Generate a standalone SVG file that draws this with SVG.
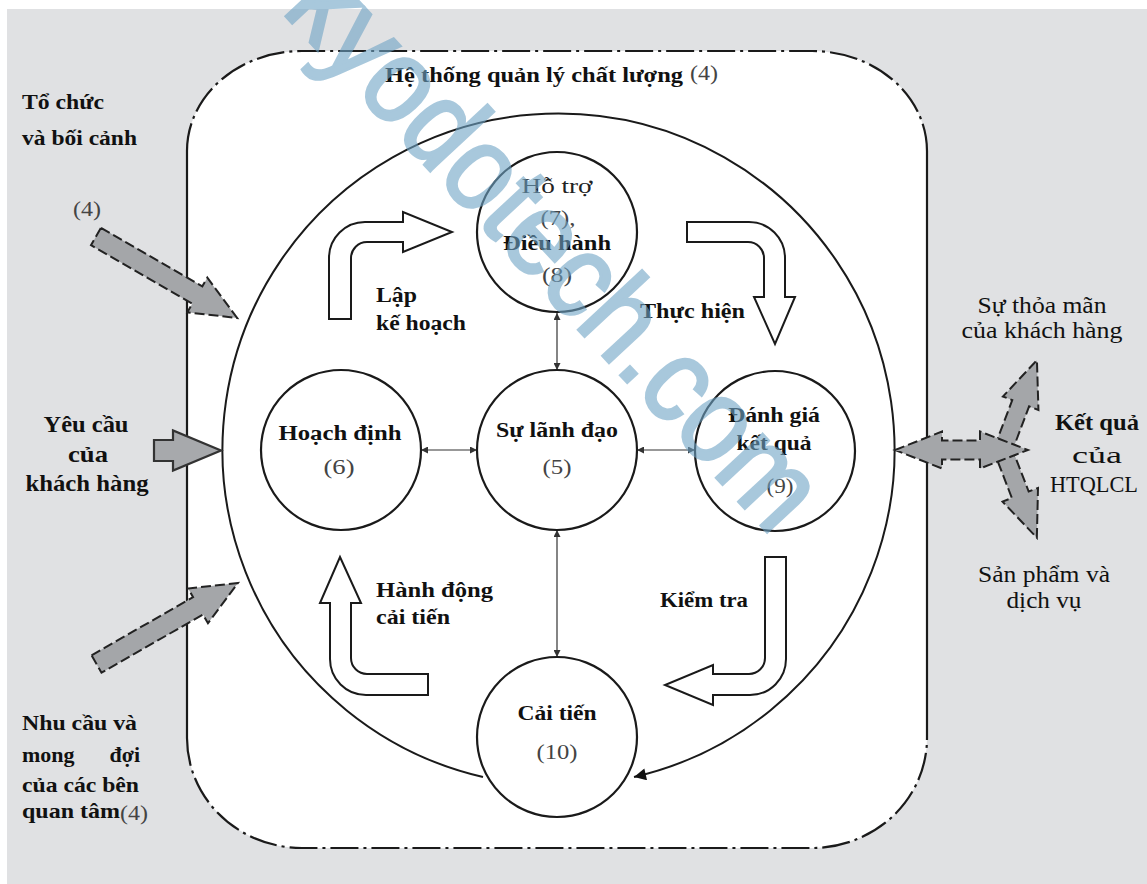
<svg xmlns="http://www.w3.org/2000/svg" width="1147" height="884" viewBox="0 0 1147 884">
<defs>
<style>
.b{font-family:"Liberation Serif","DejaVu Serif",serif;font-weight:bold;fill:#111;font-size:22px}
.r{font-family:"Liberation Serif","DejaVu Serif",serif;font-weight:normal;fill:#222;font-size:22px}
.n{font-family:"Liberation Serif","DejaVu Serif",serif;font-weight:normal;fill:#444;font-size:21px}
.node{fill:#fff;stroke:#1a1a1a;stroke-width:2.2}
.blk{fill:#fff;stroke:#1a1a1a;stroke-width:2;stroke-linejoin:miter}
.dash{fill:#a4a6a9;stroke:#222;stroke-width:2;stroke-dasharray:10 4}
.solidarr{fill:#a7a9ac;stroke:#333;stroke-width:2.2}
.thin{fill:none;stroke:#333;stroke-width:1.2}
.dd{fill:none;stroke:#1a1a1a;stroke-width:2.2;stroke-dasharray:28 5 3 5}
.side{fill:none;stroke:#1a1a1a;stroke-width:2.2}
.wm{font-family:"Liberation Sans",Arial,sans-serif;font-size:120px;fill:#6fa4c6;stroke:#6fa4c6;stroke-width:3}
</style>
<marker id="sa" viewBox="0 0 10 10" refX="10" refY="5" markerUnits="userSpaceOnUse" markerWidth="10" markerHeight="7" orient="auto-start-reverse"><path d="M0,0 L10,5 L0,10 z" fill="#333"/></marker>
<marker id="big" viewBox="0 0 10 10" refX="10" refY="5" markerUnits="userSpaceOnUse" markerWidth="24" markerHeight="12" orient="auto"><path d="M0,0 L10,5 L0,10 z" fill="#111"/></marker>
</defs>
<rect x="0" y="0" width="1147" height="884" fill="#fff"/>
<rect x="7" y="9" width="1140" height="875" fill="#e0e1e3"/>
<g id="system-boundary">
<path d="M187 151 A115 100 0 0 1 302 51 L812 51 A115 100 0 0 1 927 151 L927 738 A115 110 0 0 1 812 848 L302 848 A115 110 0 0 1 187 738 Z" fill="#fff"/>
<path class="side" d="M187 151 L187 738 M927 151 L927 738"/>
<path class="dd" d="M187 151 A115 100 0 0 1 302 51 L812 51 A115 100 0 0 1 927 151"/>
<path class="dd" d="M187 738 A115 110 0 0 0 302 848 L812 848 A115 110 0 0 0 927 738"/>
<text class="b" x="385" y="82" textLength="298" lengthAdjust="spacingAndGlyphs">Hệ thống quản lý chất lượng</text>
<text class="n" x="690" y="80" textLength="28" lengthAdjust="spacingAndGlyphs">(4)</text>
</g>
<g id="connectors">
<path d="M483 777 A336 336 0 1 1 634 777" fill="none" stroke="#1a1a1a" stroke-width="2" marker-end="url(#big)"/>
<line class="thin" x1="557" y1="313" x2="557" y2="370" marker-start="url(#sa)" marker-end="url(#sa)"/>
<line class="thin" x1="421" y1="450" x2="477" y2="450" marker-start="url(#sa)" marker-end="url(#sa)"/>
<line class="thin" x1="637" y1="450" x2="695" y2="450" marker-start="url(#sa)" marker-end="url(#sa)"/>
<line class="thin" x1="557" y1="530" x2="557" y2="657" marker-start="url(#sa)" marker-end="url(#sa)"/>
<path class="blk" d="M329 319 L329 258 A36 36 0 0 1 365 222 L403 222 L403 212 L452 232 L403 252 L403 242 L367 242 A16 16 0 0 0 351 258 L351 319 Z"/>
<path class="blk" d="M687 222 L749 222 A36 36 0 0 1 785 258 L785 297 L795 297 L775 344 L754 297 L764 297 L764 258 A16 16 0 0 0 748 242 L687 242 Z"/>
<path class="blk" d="M340 557 L361 603 L351 603 L351 658 A16 16 0 0 0 367 674 L428 674 L428 695 L366 695 A36 36 0 0 1 330 659 L330 603 L320 603 Z"/>
<path class="blk" d="M765 557 L786 557 L786 659 A36 36 0 0 1 750 695 L713 695 L713 705 L665 685 L713 665 L713 674 L749 674 A16 16 0 0 0 765 658 Z"/>
<polygon class="dash" transform="translate(96,236.5) rotate(30)" points="0,-10 117,-10 117,-20 163,0 117,20 117,10 0,10"/>
<polygon class="dash" transform="translate(96.5,664) rotate(-29.8)" points="0,-10 117,-10 117,-20 163,0 117,20 117,10 0,10"/>
<polygon class="solidarr" transform="translate(154,450.5)" points="0,-10.5 19,-10.5 19,-20 67,0 19,20 19,10.5 0,10.5"/>
<polygon class="dash" transform="translate(1003,450) rotate(-69.3)" points="0,-9 50,-9 50,-19 96,0 50,19 50,9 0,9"/>
<polygon class="dash" transform="translate(1003,450) rotate(68.9)" points="0,-9 48,-9 48,-19 94,0 48,19 48,9 0,9"/>
<polygon class="dash" points="895,450 942,431.5 942,440.5 980,440.5 980,431.5 1028,450 980,468.5 980,459.5 942,459.5 942,468.5"/>
</g>
<g id="node-support">
<circle class="node" cx="557" cy="232" r="80"/>
<text class="r" x="557" y="193" text-anchor="middle" textLength="71" lengthAdjust="spacingAndGlyphs">Hỗ trợ</text>
<text class="n" x="558" y="225" text-anchor="middle" textLength="35" lengthAdjust="spacingAndGlyphs">(7),</text>
<text class="b" x="557" y="250" text-anchor="middle" textLength="108" lengthAdjust="spacingAndGlyphs">Điều hành</text>
<text class="n" x="557" y="282" text-anchor="middle" textLength="30" lengthAdjust="spacingAndGlyphs">(8)</text>
</g>
<g id="node-planning">
<circle class="node" cx="341" cy="450" r="80"/>
<text class="b" x="340" y="440" text-anchor="middle" textLength="123" lengthAdjust="spacingAndGlyphs">Hoạch định</text>
<text class="n" x="339" y="474" text-anchor="middle" textLength="31" lengthAdjust="spacingAndGlyphs">(6)</text>
</g>
<g id="node-leadership">
<circle class="node" cx="557" cy="450" r="80"/>
<text class="b" x="557" y="437" text-anchor="middle" textLength="122" lengthAdjust="spacingAndGlyphs">Sự lãnh đạo</text>
<text class="n" x="557" y="474" text-anchor="middle" textLength="29" lengthAdjust="spacingAndGlyphs">(5)</text>
</g>
<g id="node-evaluation">
<circle class="node" cx="775" cy="451" r="80"/>
<text class="b" x="774" y="422" text-anchor="middle" textLength="92" lengthAdjust="spacingAndGlyphs">Đánh giá</text>
<text class="b" x="774" y="450" text-anchor="middle" textLength="75" lengthAdjust="spacingAndGlyphs">kết quả</text>
<text class="n" x="780" y="493" text-anchor="middle" textLength="27" lengthAdjust="spacingAndGlyphs">(9)</text>
</g>
<g id="node-improvement">
<circle class="node" cx="557" cy="737" r="80"/>
<text class="b" x="557" y="720" text-anchor="middle" textLength="79" lengthAdjust="spacingAndGlyphs">Cải tiến</text>
<text class="n" x="557" y="759" text-anchor="middle" textLength="41" lengthAdjust="spacingAndGlyphs">(10)</text>
</g>
<g id="cycle-labels">
<text class="b" x="376" y="302" textLength="41" lengthAdjust="spacingAndGlyphs">Lập</text>
<text class="b" x="376" y="330" textLength="90" lengthAdjust="spacingAndGlyphs">kế hoạch</text>
<text class="b" x="640" y="318" textLength="105" lengthAdjust="spacingAndGlyphs">Thực hiện</text>
<text class="b" x="376" y="597" textLength="117" lengthAdjust="spacingAndGlyphs">Hành động</text>
<text class="b" x="376" y="624" textLength="74" lengthAdjust="spacingAndGlyphs">cải tiến</text>
<text class="b" x="660" y="607" textLength="88" lengthAdjust="spacingAndGlyphs">Kiểm tra</text>
</g>
<g id="inputs">
<text class="b" x="22" y="109" textLength="82" lengthAdjust="spacingAndGlyphs">Tổ chức</text>
<text class="b" x="22" y="145" textLength="115" lengthAdjust="spacingAndGlyphs">và bối cảnh</text>
<text class="n" x="73" y="216" textLength="28" lengthAdjust="spacingAndGlyphs">(4)</text>
<text class="b" x="86" y="432" text-anchor="middle" style="font-size:23px" textLength="85" lengthAdjust="spacingAndGlyphs">Yêu cầu</text>
<text class="b" x="88" y="462" text-anchor="middle" style="font-size:23px" textLength="40" lengthAdjust="spacingAndGlyphs">của</text>
<text class="b" x="87" y="491" text-anchor="middle" style="font-size:23px" textLength="123" lengthAdjust="spacingAndGlyphs">khách hàng</text>
<text class="b" x="22" y="730" textLength="115" lengthAdjust="spacingAndGlyphs">Nhu cầu và</text>
<text class="b" x="22" y="762">mong</text>
<text class="b" x="140" y="762" text-anchor="end">đợi</text>
<text class="b" x="22" y="792" textLength="117" lengthAdjust="spacingAndGlyphs">của các bên</text>
<text class="b" x="22" y="818" textLength="98" lengthAdjust="spacingAndGlyphs">quan tâm</text>
<text class="n" x="120" y="820" textLength="28" lengthAdjust="spacingAndGlyphs">(4)</text>
</g>
<g id="outputs">
<text class="r" x="1042" y="313" text-anchor="middle" style="font-size:23px;fill:#111" textLength="129" lengthAdjust="spacingAndGlyphs">Sự thỏa mãn</text>
<text class="r" x="1042" y="338" text-anchor="middle" style="font-size:23px;fill:#111" textLength="161" lengthAdjust="spacingAndGlyphs">của khách hàng</text>
<text class="b" x="1097" y="430" text-anchor="middle" style="font-size:23px" textLength="84" lengthAdjust="spacingAndGlyphs">Kết quả</text>
<text class="r" x="1097" y="463" text-anchor="middle" style="font-size:23px;fill:#111" textLength="50" lengthAdjust="spacingAndGlyphs">của</text>
<text class="r" x="1094" y="492" text-anchor="middle" style="font-size:23px;fill:#111" textLength="88" lengthAdjust="spacingAndGlyphs">HTQLCL</text>
<text class="r" x="1044" y="582" text-anchor="middle" style="font-size:23px;fill:#111" textLength="132" lengthAdjust="spacingAndGlyphs">Sản phẩm và</text>
<text class="r" x="1044" y="608" text-anchor="middle" style="font-size:23px;fill:#111" textLength="75" lengthAdjust="spacingAndGlyphs">dịch vụ</text>
</g>
<g id="watermark" opacity="0.6">
<text class="wm" transform="translate(281,11) rotate(47)" x="0" y="0" textLength="720" lengthAdjust="spacingAndGlyphs">kyodotech.com</text>
</g>
</svg>
